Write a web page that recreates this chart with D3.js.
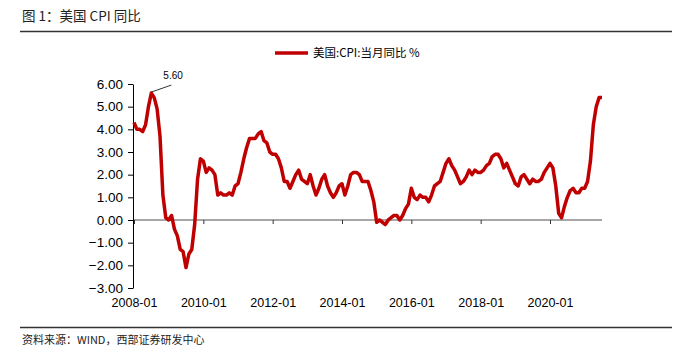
<!DOCTYPE html>
<html>
<head>
<meta charset="utf-8">
<style>
  body { margin: 0; background: #fff; }
  svg text { font-family: "Liberation Sans", Arial, sans-serif; }
  .cjk { font-family: "Noto Sans CJK SC", "Liberation Sans", sans-serif; }
</style>
</head>
<body>
<div id="chart"></div>
<script src="https://d3js.org/d3.v7.min.js"></script>
<script>
// US CPI YoY (%) monthly, 2008-01 .. 2021-07
const startYear = 2008;
const cpiValues = [
  4.3, 4.0, 4.0, 3.9, 4.2, 5.0, 5.6, 5.4, 4.9, 3.7, 1.1, 0.1,
  0.0, 0.2, -0.4, -0.7, -1.3, -1.4, -2.1, -1.5, -1.3, -0.2, 1.8, 2.7,
  2.6, 2.1, 2.3, 2.2, 2.0, 1.1, 1.2, 1.1, 1.1, 1.2, 1.1, 1.5,
  1.6, 2.1, 2.7, 3.2, 3.6, 3.6, 3.6, 3.8, 3.9, 3.5, 3.4, 3.0,
  2.9, 2.9, 2.7, 2.3, 1.7, 1.7, 1.4, 1.7, 2.0, 2.2, 1.8, 1.7,
  1.6, 2.0, 1.5, 1.1, 1.4, 1.8, 2.0, 1.5, 1.2, 1.0, 1.2, 1.5,
  1.6, 1.1, 1.5, 2.0, 2.1, 2.1, 2.0, 1.7, 1.7, 1.7, 1.3, 0.8,
  -0.1, 0.0, -0.1, -0.2, 0.0, 0.1, 0.2, 0.2, 0.0, 0.2, 0.5, 0.7,
  1.4, 1.0, 0.9, 1.1, 1.0, 1.0, 0.8, 1.1, 1.5, 1.6, 1.7, 2.1,
  2.5, 2.7, 2.4, 2.2, 1.9, 1.6, 1.7, 1.9, 2.2, 2.0, 2.2, 2.1,
  2.1, 2.2, 2.4, 2.5, 2.8, 2.9, 2.9, 2.7, 2.3, 2.5, 2.2, 1.9,
  1.6, 1.5, 1.9, 2.0, 1.8, 1.6, 1.8, 1.7, 1.7, 1.8, 2.1, 2.3,
  2.5, 2.3, 1.5, 0.3, 0.1, 0.6, 1.0, 1.3, 1.4, 1.2, 1.2, 1.4,
  1.4, 1.7, 2.6, 4.2, 5.0, 5.4, 5.4
];
const months = cpiValues.map((v, i) => {
  const y = startYear + Math.floor(i / 12);
  const m = (i % 12) + 1;
  return y + '-' + (m < 10 ? '0' + m : m);
});
const xTickLabels = ['2008-01', '2010-01', '2012-01', '2014-01', '2016-01', '2018-01', '2020-01'];
const yTicks = [-3, -2, -1, 0, 1, 2, 3, 4, 5, 6];
const peakLabel = '5.60';

const width = 690;
const height = 362;
const red = '#c00000';

const svg = d3.select('#chart')
  .append('svg')
  .attr('width', width)
  .attr('height', height);

// header
svg.append('text')
  .attr('class', 'cjk')
  .attr('x', 22)
  .attr('y', 21)
  .attr('font-size', 13.5)
  .attr('fill', '#222')
  .text('图 1：美国 CPI 同比');
svg.append('line')
  .attr('x1', 20).attr('x2', 672)
  .attr('y1', 31.5).attr('y2', 31.5)
  .attr('stroke', '#333').attr('stroke-width', 1.3);

// footer
svg.append('line')
  .attr('x1', 20).attr('x2', 672)
  .attr('y1', 327.5).attr('y2', 327.5)
  .attr('stroke', '#333').attr('stroke-width', 1.3);
svg.append('text')
  .attr('class', 'cjk')
  .attr('x', 22)
  .attr('y', 344)
  .attr('font-size', 11)
  .attr('fill', '#222')
  .text('资料来源：WIND，西部证券研发中心');

// scales
const xScale = d3.scalePoint()
  .domain(months)
  .range([134, 602]);

const yScale = d3.scaleLinear()
  .domain([-3, 6])
  .range([288, 84]);

// x axis at zero (ticks only)
const xAxisZero = svg.append('g')
  .attr('transform', `translate(0, ${yScale(0)})`)
  .call(d3.axisBottom(xScale).tickValues(xTickLabels).tickFormat('').tickSize(4).tickSizeOuter(0));
xAxisZero.select('.domain').attr('stroke', '#888').attr('stroke-width', 1.5).attr('d', `M133,0H602`);
xAxisZero.selectAll('.tick line').attr('stroke', '#333');

// x tick labels at bottom
const xAxisBottom = svg.append('g')
  .attr('transform', `translate(0, ${yScale(-3)})`)
  .call(d3.axisBottom(xScale).tickValues(xTickLabels).tickSize(0));
xAxisBottom.select('.domain').remove();
xAxisBottom.selectAll('text')
  .attr('dy', 0)
  .attr('y', 19)
  .attr('font-size', 12.5)
  .attr('font-family', '"Liberation Sans", Arial, sans-serif')
  .attr('fill', '#000');

// y axis
const yAxis = svg.append('g')
  .attr('transform', 'translate(133, 0)')
  .call(d3.axisLeft(yScale).tickValues(yTicks).tickFormat(d3.format('.2f')).tickSize(5).tickSizeOuter(0));
yAxis.select('.domain').attr('stroke', '#000');
yAxis.selectAll('.tick line').attr('stroke', '#000');
yAxis.selectAll('text')
  .attr('x', -10)
  .attr('font-size', 13.5)
  .attr('font-family', '"Liberation Sans", Arial, sans-serif')
  .attr('fill', '#000');

// line
const line = d3.line()
  .x((d, i) => xScale(months[i]))
  .y(d => yScale(d));

svg.append('path')
  .datum(cpiValues)
  .attr('fill', 'none')
  .attr('stroke', red)
  .attr('stroke-width', 3.5)
  .attr('stroke-linejoin', 'round')
  .attr('d', line);

// peak annotation
const peakIdx = cpiValues.indexOf(d3.max(cpiValues.slice(0, 24)));
const px = xScale(months[peakIdx]);
const py = yScale(cpiValues[peakIdx]);
svg.append('line')
  .attr('x1', px).attr('y1', py - 1)
  .attr('x2', px + 20).attr('y2', py - 8)
  .attr('stroke', '#000').attr('stroke-width', 0.8);
svg.append('text')
  .attr('x', px + 12)
  .attr('y', py - 14)
  .attr('font-size', 10)
  .attr('fill', '#000')
  .text(peakLabel);

// legend
svg.append('line')
  .attr('x1', 275).attr('x2', 308)
  .attr('y1', 53).attr('y2', 53)
  .attr('stroke', red).attr('stroke-width', 3.5);
svg.append('text')
  .attr('class', 'cjk')
  .attr('x', 313)
  .attr('y', 57)
  .attr('font-size', 11.5)
  .attr('fill', '#000')
  .text('美国:CPI:当月同比 %');
</script>
</body>
</html>
